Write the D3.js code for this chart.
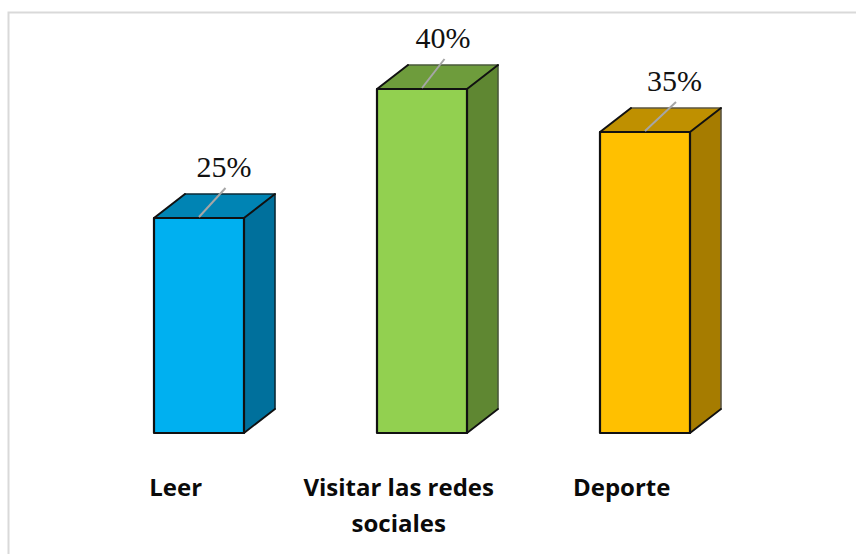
<!DOCTYPE html>
<html><head><meta charset="utf-8">
<script src="https://cdn.jsdelivr.net/npm/d3@7/dist/d3.min.js"></script>
<style>html,body{margin:0;padding:0;background:#fff}svg{display:block}</style>
</head><body><div id="c"></div>
<script>
const categories = ["Leer", "Visitar las redes sociales", "Deporte"];
const values = [25, 40, 35];
const labels = ["25%", "40%", "35%"];
const frontColors = ["#00B0F0", "#92D050", "#FFC000"];
const topColors = ["#0084B4", "#6E9C3C", "#BF9000"];
const sideColors = ["#00709C", "#5F8732", "#A67C00"];
const backEdgeColors = ["#0b2a36", "#4a5a3a", "#5c5540"];
const catLines = [["Leer"], ["Visitar las redes", "sociales"], ["Deporte"]];
const labelShift = [70, 66, 74.5];

const W = 856, H = 554;
const svg = d3.select("#c").append("svg").attr("width", W).attr("height", H);
const baseY = 433, dx = 31, dy = 24, barW = 90;
const x = d3.scalePoint().domain(categories).range([154, 600]);
const y = d3.scaleLinear().domain([0, 40]).range([baseY, 89]);

svg.append("path").attr("d", `M8.5 ${H}V12.5H${W}`).attr("fill", "none").attr("stroke", "#D9D9D9").attr("stroke-width", 2);

const line = d3.line();
function face(sel, pts, fill) {
  sel.append("path").attr("d", line(pts) + "Z").attr("fill", fill);
}
function edge(sel, pts, color, w) {
  sel.append("path").attr("d", line(pts)).attr("fill", "none")
    .attr("stroke", color).attr("stroke-width", w).attr("stroke-linejoin", "round").attr("stroke-linecap", "round");
}
const g = svg.selectAll("g.bar").data(categories).join("g").attr("class", "bar");
g.each(function(d, i) {
  const s = d3.select(this), x0 = x(d), x1 = x0 + barW, t = y(values[i]);
  face(s, [[x1, t], [x1 + dx, t - dy], [x1 + dx, baseY - dy], [x1, baseY]], sideColors[i]);
  face(s, [[x0, t], [x0 + dx, t - dy], [x1 + dx, t - dy], [x1, t]], topColors[i]);
  face(s, [[x0, t], [x1, t], [x1, baseY], [x0, baseY]], frontColors[i]);
  edge(s, [[x0 + dx, t - dy], [x1 + dx, t - dy], [x1 + dx, baseY - dy]], backEdgeColors[i], 1.6);
  edge(s, [[x0, t], [x0 + dx, t - dy]], "#111", 2);
  edge(s, [[x1, t], [x1 + dx, t - dy]], "#111", 2);
  edge(s, [[x1, baseY], [x1 + dx, baseY - dy]], "#111", 1.8);
  edge(s, [[x0, t], [x1, t], [x1, baseY], [x0, baseY], [x0, t]], "#111", 2.2);
  const lx = x0 + labelShift[i];
  s.append("line").attr("x1", x0 + 45).attr("y1", t - 1).attr("x2", lx + 1.5).attr("y2", t - 30)
    .attr("stroke", "#A6A6A6").attr("stroke-width", 2);
  s.append("text").attr("x", lx).attr("y", t - 41).attr("text-anchor", "middle")
    .attr("font-family", "Liberation Serif").attr("font-size", 30).attr("fill", "#111").text(labels[i]);
});

svg.selectAll("text.cat").data(catLines).join("text").attr("class", "cat")
  .attr("text-anchor", "middle").attr("font-family", "Open Sans").attr("font-weight", 700)
  .attr("font-size", 24).attr("fill", "#0a0a0a")
  .each(function(d, i) {
    const cx = x(categories[i]) + 21.7;
    d3.select(this).selectAll("tspan").data(d).join("tspan")
      .attr("x", cx).attr("y", (_, k) => 496 + k * 36).text(t => t);
  });
</script></body></html>
